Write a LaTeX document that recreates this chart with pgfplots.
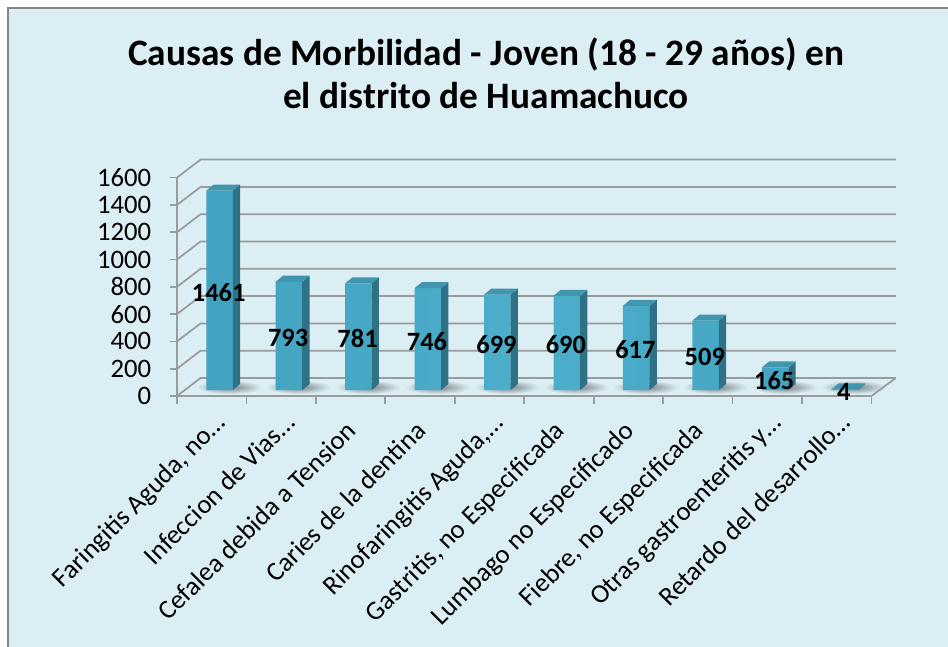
\documentclass[border=0pt]{standalone}
\usepackage{fontspec}
\setmainfont{Carlito}
\usepackage{pgfplots}
\usepackage{pgfplotstable}
\pgfplotsset{compat=1.18}

\definecolor{fondo}{HTML}{DBEEF4}
\definecolor{marco}{HTML}{868686}
\definecolor{rejilla}{HTML}{989C9E}
\definecolor{caraA}{HTML}{42A3C0}
\definecolor{caraB}{HTML}{4CAECB}
\definecolor{lado}{HTML}{2F7186}
\definecolor{tapa}{HTML}{4295AE}

\pgfdeclareradialshading{sombra}{\pgfpointorigin}{%
  color(0bp)=(black!45!fondo); color(10bp)=(black!28!fondo); color(25bp)=(fondo); color(50bp)=(fondo)}

% 1 px of the reference = 0.75pt
\def\px{0.75pt}
% labels without ellipsis stop short of the others
\newcommand{\corto}{\kern8.5pt}

\pgfplotstableread{
c v
0 1461
1 793
2 781
3 746
4 699
5 690
6 617
7 509
8 165
9 4
}\datos

\begin{document}
\begin{tikzpicture}[x=\px,y=\px]
  % axis origin sits at (177,396) of the reference
  \path[use as bounding box,fill=white] (-177,-250) rectangle (771,396);
  \fill[fondo] (-169,-252) rectangle (773,388);
  \draw[marco,line width=1.5pt] (-169,-252) -- (-169,388) -- (773,388);
  \node[align=center,font=\fontsize{28}{32.5}\selectfont\bfseries] at (309,322.5)
    {Causas de Morbilidad - Joven (18 - 29 años) en\\el distrito de Huamachuco};

  \begin{axis}[
    at={(0,0)},anchor=south west,
    scale only axis,
    width=694.5*\px,height=218.4*\px,
    xmin=-0.5,xmax=9.5,ymin=0,ymax=1600,
    clip=false,
    axis lines*=left,
    axis line style={rejilla,line width=1.3pt,-},
    tick align=outside,
    major tick length=5.25pt,
    minor tick length=6pt,
    ytick={0,200,...,1600},
    y tick style={rejilla,line width=1.3pt},
    xtick={0,...,9},
    minor xtick={-0.5,0.5,...,9.5},
    x tick style={draw=none},
    minor x tick style={rejilla,line width=1.3pt,draw=rejilla},
    xticklabels={{Faringitis Aguda, no…},{Infeccion de Vias…},{Cefalea debida a Tension\corto},
      {Caries de la dentina\corto},{Rinofaringitis Aguda,…},{Gastritis, no Especificada\corto},
      {Lumbago no Especificado\corto},{Fiebre, no Especificada\corto},{Otras gastroenteritis y…},
      {Retardo del desarrollo…}},
    tick label style={font=\fontsize{20}{20}\selectfont},
    /pgf/number format/assume math mode=true,
    /pgf/number format/1000 sep={},
    % these shifts run along the rotated label
    xticklabel style={rotate=45,anchor=north east,xshift=-3.4pt,yshift=-5.5pt,inner sep=0pt},
    yticklabel style={xshift=-14pt,inner sep=0pt},
  ]
  % shadows on the floor
  \pgfplotsinvokeforeach{0,...,9}{
    \pgfmathsetmacro{\xa}{#1-0.22}
    \pgfmathsetmacro{\xb}{#1+0.72}
    \addplot[draw=none,shade,shading=sombra,forget plot] coordinates
      {(\xa,15) (\xb,15) (\xb,115) (\xa,115)} -- cycle;
  }
  % back wall and left wall lines
  \pgfplotsinvokeforeach{0,200,...,1600}{
    \pgfmathsetmacro{\yb}{#1+132}
    \addplot[rejilla,line width=1.3pt,forget plot] coordinates
      {(-0.5,#1) (-0.16,\yb) (9.85,\yb)};
  }
  \addplot[rejilla,line width=1.3pt,forget plot] coordinates {(9.5,0) (9.85,132)};

  % front faces
  \addplot[ybar,bar width=19.9pt,bar shift=5.85pt,yshift=4.5pt,draw=none,
    left color=caraA,right color=caraA,middle color=caraB,forget plot]
    table[x=c,y=v] {\datos};

  % side and top faces
  \pgfplotsinvokeforeach{0,...,9}{
    \pgfplotstablegetelem{#1}{v}\of\datos
    \let\valor\pgfplotsretval
    \pgfmathsetmacro{\xl}{#1+0.112-0.191}
    \pgfmathsetmacro{\xr}{#1+0.112+0.191}
    \pgfmathsetmacro{\xsl}{\xl+0.105}
    \pgfmathsetmacro{\xsr}{\xr+0.105}
    \pgfmathsetmacro{\yf}{\valor+44}
    \pgfmathsetmacro{\ys}{\valor+88}
    \addplot[draw=none,fill=lado,forget plot] coordinates
      {(\xr,44) (\xsr,88) (\xsr,\ys) (\xr,\yf)} -- cycle;
    \addplot[draw=none,fill=tapa,forget plot] coordinates
      {(\xl,\yf) (\xsl,\ys) (\xsr,\ys) (\xr,\yf)} -- cycle;
  }

  % data labels, at mid height of each bar
  \addplot[draw=none,mark=none,forget plot,
    nodes near coords,point meta=explicit,
    nodes near coords style={anchor=center,inner sep=0pt,xshift=5.2pt,yshift=3pt,
      font=\fontsize{19.8}{20}\selectfont\bfseries,
      /pgf/number format/assume math mode=true,
      /pgf/number format/1000 sep={}}]
    table[x=c,y expr=\thisrow{v}/2,meta=v] {\datos};
  \end{axis}
\end{tikzpicture}
\end{document}
